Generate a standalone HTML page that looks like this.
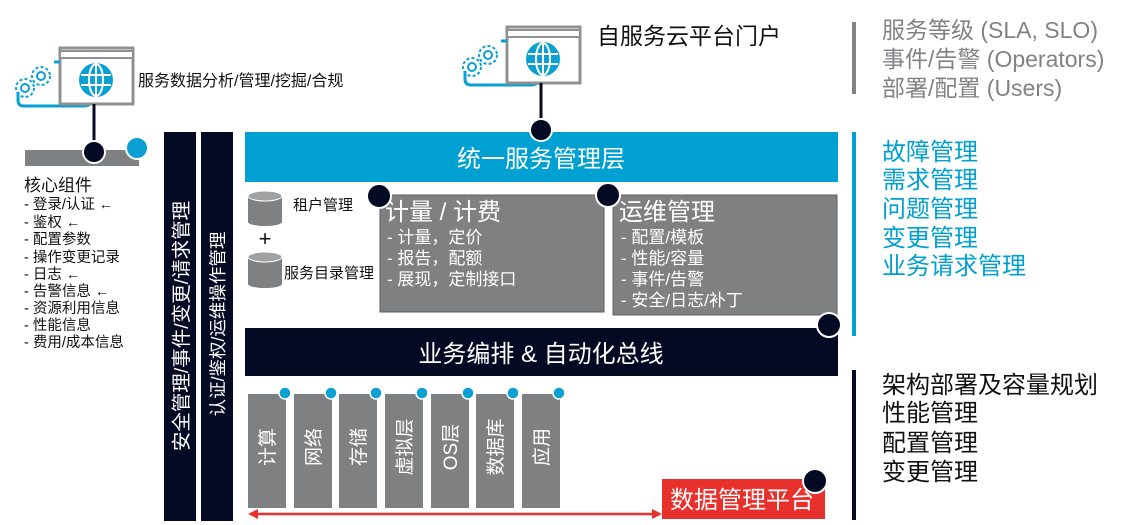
<!DOCTYPE html>
<html><head><meta charset="utf-8"><style>
body{margin:0;background:#fff;}
svg{display:block;}
text{font-family:"Liberation Sans","Noto Sans CJK SC",sans-serif;}
</style></head><body>
<svg width="1131" height="525" viewBox="0 0 1131 525" xmlns="http://www.w3.org/2000/svg">
<defs>
<g id="win">
  <path d="M-42,44 L-42,52 Q-42,58 -36,58 L24,58 Q32,58 32,50" fill="none" stroke="#0aa0d4" stroke-width="3"/>
  <rect x="0" y="0" width="73" height="56" fill="#fff" stroke="#909090" stroke-width="3"/>
  <rect x="0" y="3" width="73" height="7" fill="#fff" stroke="#909090" stroke-width="2"/>
  <circle cx="36" cy="32" r="17" fill="#0aa0d4"/>
  <g fill="none" stroke="#fff" stroke-width="2">
   <ellipse cx="36" cy="32" rx="7" ry="16"/>
   <line x1="36" y1="16" x2="36" y2="48"/>
   <line x1="21" y1="27" x2="51" y2="27"/>
   <line x1="21" y1="37" x2="51" y2="37"/>
  </g>
  <g fill="none" stroke="#0aa0d4" stroke-width="2">
   <circle cx="-35" cy="40" r="9" stroke-dasharray="3 2.2"/><circle cx="-35" cy="40" r="4"/>
   <circle cx="-19" cy="28" r="9" stroke-dasharray="3 2.2"/><circle cx="-19" cy="28" r="4"/>
  </g>
  <line x1="-6" y1="14" x2="0" y2="14" stroke="#0aa0d4" stroke-width="3"/>
</g>
</defs>

<use href="#win" x="60" y="48"/>
<text x="138" y="86" font-size="16" fill="#111">服务数据分析/管理/挖掘/合规</text>
<line x1="94" y1="104" x2="94" y2="150" stroke="#0a0a20" stroke-width="3"/>
<rect x="25" y="150" width="114" height="16" fill="#7f8082"/>
<circle cx="94" cy="152" r="11" fill="#050a24" stroke="#fff" stroke-width="2"/>
<circle cx="137" cy="148" r="11" fill="#0aa0d4" stroke="#fff" stroke-width="2"/>

<text x="24" y="191" font-size="17" fill="#111">核心组件</text>
<g font-size="14.5" fill="#111">
<text x="24" y="209">- 登录/认证 ←</text>
<text x="24" y="227">- 鉴权 ←</text>
<text x="24" y="244">-   配置参数</text>
<text x="24" y="262">-   操作变更记录</text>
<text x="24" y="279">- 日志 ←</text>
<text x="24" y="296">- 告警信息 ←</text>
<text x="24" y="313">- 资源利用信息</text>
<text x="24" y="330">- 性能信息</text>
<text x="24" y="347">- 费用/成本信息</text>
</g>

<rect x="164" y="132" width="32" height="389" fill="#050a24"/>
<rect x="201" y="132" width="32" height="389" fill="#050a24"/>
<text transform="translate(188,326) rotate(-90)" text-anchor="middle" font-size="19.5" fill="#fff">安全管理/事件/变更/请求管理</text>
<text transform="translate(224,324) rotate(-90)" text-anchor="middle" font-size="17.5" fill="#fff">认证/鉴权/运维操作管理</text>

<use href="#win" x="507" y="27"/>
<text x="597" y="44" font-size="23" fill="#111">自服务云平台门户</text>
<line x1="541" y1="83" x2="541" y2="130" stroke="#0a0a20" stroke-width="3"/>

<rect x="245" y="132" width="593" height="50" fill="#00a0d2"/>
<text x="541" y="167" text-anchor="middle" font-size="24" fill="#fff">统一服务管理层</text>
<circle cx="541" cy="130" r="11" fill="#050a24" stroke="#fff" stroke-width="2"/>

<g fill="#7f8082">
<rect x="248" y="196" width="34" height="26"/><ellipse cx="265" cy="222" rx="17" ry="4"/>
<rect x="248" y="257" width="34" height="27"/><ellipse cx="265" cy="284" rx="17" ry="4"/>
</g>
<ellipse cx="265" cy="196" rx="17" ry="5" fill="#a0a1a3" stroke="#fff" stroke-width="1"/>
<ellipse cx="265" cy="257" rx="17" ry="5" fill="#a0a1a3" stroke="#fff" stroke-width="1"/>
<text x="265" y="246" text-anchor="middle" font-size="22" fill="#111">+</text>
<text x="293" y="210" font-size="15" fill="#111">租户管理</text>
<text x="284" y="278" font-size="15" fill="#111">服务目录管理</text>

<rect x="380" y="195" width="224" height="117" fill="#7f8082" stroke="#5d5e60"/>
<text x="385" y="220" font-size="24" fill="#fff">计量 / 计费</text>
<g font-size="17" fill="#fff">
<text x="387" y="243">- 计量，定价</text>
<text x="387" y="264">- 报告，配额</text>
<text x="387" y="285">- 展现，定制接口</text>
</g>
<rect x="613" y="195" width="224" height="120" fill="#7f8082" stroke="#5d5e60"/>
<text x="619" y="220" font-size="24" fill="#fff">运维管理</text>
<g font-size="17" fill="#fff">
<text x="621" y="243">- 配置/模板</text>
<text x="621" y="264">- 性能/容量</text>
<text x="621" y="285">- 事件/告警</text>
<text x="621" y="306">- 安全/日志/补丁</text>
</g>
<circle cx="379" cy="196" r="12" fill="#050a24" stroke="#fff" stroke-width="2"/>
<circle cx="608" cy="195" r="12" fill="#050a24" stroke="#fff" stroke-width="2"/>

<rect x="245" y="328" width="593" height="48" fill="#050a24"/>
<text x="541" y="362" text-anchor="middle" font-size="24" fill="#fff">业务编排 &amp; 自动化总线</text>
<circle cx="829" cy="325" r="12" fill="#050a24" stroke="#fff" stroke-width="2"/>

<g fill="#7f8082">
<rect x="248" y="394" width="38" height="114"/>
<rect x="294" y="394" width="38" height="114"/>
<rect x="339" y="394" width="38" height="114"/>
<rect x="385" y="394" width="38" height="114"/>
<rect x="431" y="394" width="38" height="114"/>
<rect x="476" y="394" width="38" height="114"/>
<rect x="522" y="394" width="38" height="114"/>
</g>
<g fill="#0aa0d4" stroke="#fff" stroke-width="1.5">
<circle cx="285" cy="393" r="6"/><circle cx="331" cy="393" r="6"/><circle cx="376" cy="393" r="6"/>
<circle cx="422" cy="393" r="6"/><circle cx="468" cy="393" r="6"/><circle cx="513" cy="393" r="6"/><circle cx="559" cy="393" r="6"/>
</g>
<g font-size="19" fill="#fff" text-anchor="middle">
<text transform="translate(274,447) rotate(-90)">计算</text>
<text transform="translate(320,447) rotate(-90)">网络</text>
<text transform="translate(365,447) rotate(-90)">存储</text>
<text transform="translate(411,447) rotate(-90)">虚拟层</text>
<text transform="translate(457,447) rotate(-90)">OS层</text>
<text transform="translate(502,447) rotate(-90)">数据库</text>
<text transform="translate(548,447) rotate(-90)">应用</text>
</g>

<line x1="254" y1="514" x2="656" y2="514" stroke="#e8302c" stroke-width="2.5"/>
<path d="M248,514 L258,509 L258,519 Z" fill="#e8302c"/>
<path d="M662,514 L652,509 L652,519 Z" fill="#e8302c"/>
<rect x="662" y="479" width="163" height="40" fill="#e8302c"/>
<text x="742" y="508" text-anchor="middle" font-size="24" fill="#fff">数据管理平台</text>
<circle cx="815" cy="481" r="12" fill="#050a24" stroke="#fff" stroke-width="2"/>

<rect x="852" y="22" width="4" height="72" fill="#808285"/>
<g font-size="23" fill="#808285">
<text x="882" y="38">服务等级 (SLA, SLO)</text>
<text x="882" y="67">事件/告警 (Operators)</text>
<text x="882" y="96">部署/配置 (Users)</text>
</g>
<rect x="852" y="132" width="4" height="204" fill="#00a0d2"/>
<g font-size="24" fill="#00a0d2">
<text x="882" y="160">故障管理</text>
<text x="882" y="188">需求管理</text>
<text x="882" y="217">问题管理</text>
<text x="882" y="246">变更管理</text>
<text x="882" y="274">业务请求管理</text>
</g>
<rect x="852" y="370" width="4" height="150" fill="#050a24"/>
<g font-size="24" fill="#111">
<text x="882" y="393">架构部署及容量规划</text>
<text x="882" y="421">性能管理</text>
<text x="882" y="451">配置管理</text>
<text x="882" y="480">变更管理</text>
</g>
</svg>
</body></html>
